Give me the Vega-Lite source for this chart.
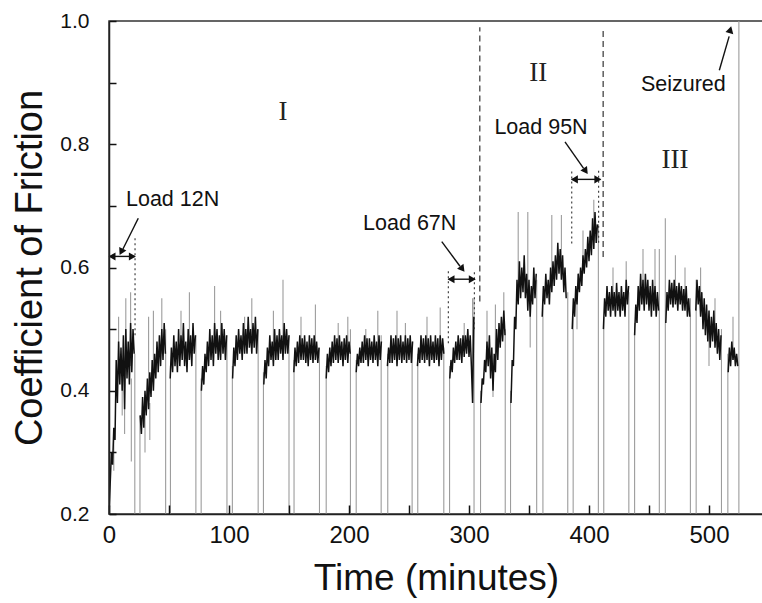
{
  "$schema": "https://vega.github.io/schema/vega-lite/v6.json",
  "width": 654,
  "height": 493,
  "autosize": "none",
  "padding": {"left": 109, "top": 21, "right": 0, "bottom": 89},
  "config": {
    "font": "Liberation Sans",
    "view": {"stroke": "#333", "strokeWidth": 1.5},
    "axis": {"grid": false, "domainColor": "#222", "domainWidth": 1.5, "tickColor": "#111", "tickWidth": 1.5, "labelColor": "#111", "titleColor": "#111", "titleFontWeight": "normal", "labelFont": "Liberation Sans", "titleFont": "Liberation Sans"}
  },
  "encoding": {
    "x": {"field": "t", "type": "quantitative", "scale": {"domain": [0, 545], "nice": false, "zero": false},
      "axis": {"title": "Time (minutes)", "values": [0, 50, 100, 150, 200, 250, 300, 350, 400, 450, 500],
        "labelExpr": "datum.value % 100 === 0 ? datum.label : ''", "labelFontSize": 24, "labelPadding": 18,
        "tickSize": -9, "titleFontSize": 37, "titlePadding": 13, "labelFlush": false, "zindex": 1}},
    "y": {"field": "c", "type": "quantitative", "scale": {"domain": [0.2, 1.0], "nice": false, "zero": false},
      "axis": {"title": "Coefficient of Friction", "values": [0.2, 0.3, 0.4, 0.5, 0.6, 0.7, 0.8, 0.9, 1.0],
        "labelExpr": "round(datum.value * 10) % 2 === 0 ? format(datum.value, '.1f') : ''",
        "labelFontSize": 21, "labelPadding": 27, "tickSize": -7, "titleFontSize": 38, "titlePadding": 10, "labelFlush": false, "zindex": 1}}
  },
  "layer": [
    {
      "data": {"values": [
        {"t": 4, "c": 0.27, "c2": 0.33}, {"t": 8, "c": 0.44, "c2": 0.52}, {"t": 11, "c": 0.36, "c2": 0.42}, {"t": 13, "c": 0.33, "c2": 0.42}, {"t": 14, "c": 0.44, "c2": 0.55}, {"t": 18, "c": 0.44, "c2": 0.56}, {"t": 18.6, "c": 0.285, "c2": 0.42},
        {"t": 21.5, "c": 0.2, "c2": 0.46}, {"t": 25.8, "c": 0.2, "c2": 0.36},
        {"t": 30, "c": 0.30, "c2": 0.36}, {"t": 33, "c": 0.40, "c2": 0.52}, {"t": 34, "c": 0.32, "c2": 0.38}, {"t": 37, "c": 0.42, "c2": 0.53}, {"t": 44, "c": 0.46, "c2": 0.55},
        {"t": 47.2, "c": 0.2, "c2": 0.5}, {"t": 51.2, "c": 0.2, "c2": 0.44},
        {"t": 60, "c": 0.46, "c2": 0.53}, {"t": 67, "c": 0.47, "c2": 0.56},
        {"t": 72.4, "c": 0.2, "c2": 0.49}, {"t": 76.8, "c": 0.2, "c2": 0.42},
        {"t": 88, "c": 0.47, "c2": 0.57}, {"t": 93, "c": 0.47, "c2": 0.53},
        {"t": 98.3, "c": 0.2, "c2": 0.49}, {"t": 102.8, "c": 0.2, "c2": 0.44},
        {"t": 113, "c": 0.48, "c2": 0.52}, {"t": 119, "c": 0.48, "c2": 0.55},
        {"t": 124.3, "c": 0.2, "c2": 0.5}, {"t": 128.7, "c": 0.2, "c2": 0.43},
        {"t": 137, "c": 0.46, "c2": 0.53}, {"t": 145, "c": 0.47, "c2": 0.58},
        {"t": 150, "c": 0.2, "c2": 0.49}, {"t": 154.2, "c": 0.2, "c2": 0.45},
        {"t": 160, "c": 0.47, "c2": 0.52}, {"t": 172, "c": 0.47, "c2": 0.54},
        {"t": 175.4, "c": 0.2, "c2": 0.47}, {"t": 181, "c": 0.2, "c2": 0.44},
        {"t": 191, "c": 0.47, "c2": 0.51}, {"t": 199, "c": 0.47, "c2": 0.52},
        {"t": 201.2, "c": 0.2, "c2": 0.5}, {"t": 206, "c": 0.2, "c2": 0.45},
        {"t": 214, "c": 0.47, "c2": 0.50}, {"t": 224, "c": 0.47, "c2": 0.53},
        {"t": 226.8, "c": 0.2, "c2": 0.49}, {"t": 232.3, "c": 0.2, "c2": 0.46},
        {"t": 240, "c": 0.47, "c2": 0.53}, {"t": 247, "c": 0.47, "c2": 0.51},
        {"t": 252.6, "c": 0.2, "c2": 0.48}, {"t": 257.3, "c": 0.2, "c2": 0.46},
        {"t": 265, "c": 0.47, "c2": 0.52}, {"t": 276, "c": 0.47, "c2": 0.535},
        {"t": 279, "c": 0.2, "c2": 0.47}, {"t": 283.8, "c": 0.2, "c2": 0.44},
        {"t": 296, "c": 0.47, "c2": 0.51}, {"t": 303, "c": 0.38, "c2": 0.55},
        {"t": 304.2, "c": 0.2, "c2": 0.55}, {"t": 309.6, "c": 0.2, "c2": 0.40},
        {"t": 315, "c": 0.46, "c2": 0.53}, {"t": 320, "c": 0.39, "c2": 0.44}, {"t": 322, "c": 0.45, "c2": 0.54}, {"t": 329, "c": 0.5, "c2": 0.56},
        {"t": 330.2, "c": 0.2, "c2": 0.5}, {"t": 334.6, "c": 0.2, "c2": 0.40},
        {"t": 341, "c": 0.56, "c2": 0.69}, {"t": 349, "c": 0.56, "c2": 0.69}, {"t": 351, "c": 0.47, "c2": 0.53},
        {"t": 356.4, "c": 0.2, "c2": 0.58}, {"t": 361.6, "c": 0.2, "c2": 0.54},
        {"t": 369, "c": 0.57, "c2": 0.685}, {"t": 377, "c": 0.6, "c2": 0.685},
        {"t": 382.3, "c": 0.2, "c2": 0.56}, {"t": 386.8, "c": 0.2, "c2": 0.52},
        {"t": 390, "c": 0.5, "c2": 0.55}, {"t": 395, "c": 0.6, "c2": 0.66}, {"t": 404, "c": 0.64, "c2": 0.71},
        {"t": 407.8, "c": 0.2, "c2": 0.67}, {"t": 412.3, "c": 0.2, "c2": 0.52},
        {"t": 420, "c": 0.54, "c2": 0.60}, {"t": 431, "c": 0.55, "c2": 0.61},
        {"t": 433.2, "c": 0.2, "c2": 0.56}, {"t": 438, "c": 0.2, "c2": 0.51},
        {"t": 445, "c": 0.55, "c2": 0.63}, {"t": 455, "c": 0.55, "c2": 0.63},
        {"t": 458.6, "c": 0.2, "c2": 0.63}, {"t": 463.6, "c": 0.2, "c2": 0.68},
        {"t": 472, "c": 0.55, "c2": 0.62}, {"t": 480, "c": 0.55, "c2": 0.60},
        {"t": 484.5, "c": 0.2, "c2": 0.55}, {"t": 489.3, "c": 0.2, "c2": 0.58},
        {"t": 493, "c": 0.54, "c2": 0.60}, {"t": 500, "c": 0.44, "c2": 0.5}, {"t": 505, "c": 0.49, "c2": 0.55},
        {"t": 510.4, "c": 0.2, "c2": 0.50}, {"t": 515.7, "c": 0.2, "c2": 0.46},
        {"t": 520, "c": 0.45, "c2": 0.52},
        {"t": 524.9, "c": 0.2, "c2": 1.0}
      ]},
      "mark": {"type": "rule", "color": "#9c9c9c", "strokeWidth": 1.1, "clip": true},
      "encoding": {"y2": {"field": "c2"}}
    },
    {
      "data": {"values": [
        {"s":"A","t":0,"c":0.2},{"s":"A","t":1,"c":0.25},{"s":"A","t":2,"c":0.30},{"s":"A","t":3,"c":0.28},{"s":"A","t":4,"c":0.34},{"s":"A","t":5,"c":0.32},{"s":"A","t":6,"c":0.45},{"s":"A","t":7,"c":0.38},{"s":"A","t":8,"c":0.48},{"s":"A","t":9,"c":0.41},{"s":"A","t":10,"c":0.47},{"s":"A","t":11,"c":0.40},{"s":"A","t":12,"c":0.49},{"s":"A","t":13,"c":0.37},{"s":"A","t":14,"c":0.50},{"s":"A","t":15,"c":0.42},{"s":"A","t":16,"c":0.48},{"s":"A","t":17,"c":0.41},{"s":"A","t":18,"c":0.51},{"s":"A","t":19,"c":0.43},{"s":"A","t":20,"c":0.50},{"s":"A","t":21,"c":0.46},
        {"s":"B","t":26,"c":0.36},{"s":"B","t":27,"c":0.33},{"s":"B","t":28,"c":0.39},{"s":"B","t":29,"c":0.34},{"s":"B","t":30,"c":0.40},{"s":"B","t":31,"c":0.36},{"s":"B","t":32,"c":0.42},{"s":"B","t":33,"c":0.37},{"s":"B","t":34,"c":0.43},{"s":"B","t":35,"c":0.39},{"s":"B","t":36,"c":0.45},{"s":"B","t":37,"c":0.40},{"s":"B","t":38,"c":0.46},{"s":"B","t":39,"c":0.42},{"s":"B","t":40,"c":0.48},{"s":"B","t":41,"c":0.43},{"s":"B","t":42,"c":0.49},{"s":"B","t":43,"c":0.44},{"s":"B","t":44,"c":0.50},{"s":"B","t":45,"c":0.45},{"s":"B","t":46,"c":0.51},{"s":"B","t":47,"c":0.46},
        {"s":"C","t":51,"c":0.42},{"s":"C","t":52,"c":0.47},{"s":"C","t":53,"c":0.43},{"s":"C","t":54,"c":0.49},{"s":"C","t":55,"c":0.44},{"s":"C","t":56,"c":0.48},{"s":"C","t":57,"c":0.43},{"s":"C","t":58,"c":0.50},{"s":"C","t":59,"c":0.44},{"s":"C","t":60,"c":0.49},{"s":"C","t":61,"c":0.45},{"s":"C","t":62,"c":0.51},{"s":"C","t":63,"c":0.44},{"s":"C","t":64,"c":0.48},{"s":"C","t":65,"c":0.43},{"s":"C","t":66,"c":0.50},{"s":"C","t":67,"c":0.45},{"s":"C","t":68,"c":0.49},{"s":"C","t":69,"c":0.44},{"s":"C","t":70,"c":0.51},{"s":"C","t":71,"c":0.46},{"s":"C","t":72,"c":0.49},
        {"s":"D","t":77,"c":0.40},{"s":"D","t":78,"c":0.44},{"s":"D","t":79,"c":0.41},{"s":"D","t":80,"c":0.46},{"s":"D","t":81,"c":0.43},{"s":"D","t":82,"c":0.48},{"s":"D","t":83,"c":0.44},{"s":"D","t":84,"c":0.50},{"s":"D","t":85,"c":0.45},{"s":"D","t":86,"c":0.49},{"s":"D","t":87,"c":0.44},{"s":"D","t":88,"c":0.51},{"s":"D","t":89,"c":0.46},{"s":"D","t":90,"c":0.50},{"s":"D","t":91,"c":0.45},{"s":"D","t":92,"c":0.49},{"s":"D","t":93,"c":0.45},{"s":"D","t":94,"c":0.51},{"s":"D","t":95,"c":0.46},{"s":"D","t":96,"c":0.50},{"s":"D","t":97,"c":0.45},{"s":"D","t":98,"c":0.49},
        {"s":"E","t":103,"c":0.42},{"s":"E","t":104,"c":0.47},{"s":"E","t":105,"c":0.44},{"s":"E","t":106,"c":0.49},{"s":"E","t":107,"c":0.45},{"s":"E","t":108,"c":0.50},{"s":"E","t":109,"c":0.46},{"s":"E","t":110,"c":0.49},{"s":"E","t":111,"c":0.45},{"s":"E","t":112,"c":0.51},{"s":"E","t":113,"c":0.46},{"s":"E","t":114,"c":0.50},{"s":"E","t":115,"c":0.46},{"s":"E","t":116,"c":0.52},{"s":"E","t":117,"c":0.47},{"s":"E","t":118,"c":0.50},{"s":"E","t":119,"c":0.46},{"s":"E","t":120,"c":0.51},{"s":"E","t":121,"c":0.47},{"s":"E","t":122,"c":0.52},{"s":"E","t":123,"c":0.46},{"s":"E","t":124,"c":0.50},
        {"s":"F","t":129,"c":0.41},{"s":"F","t":130,"c":0.45},{"s":"F","t":131,"c":0.42},{"s":"F","t":132,"c":0.47},{"s":"F","t":133,"c":0.44},{"s":"F","t":134,"c":0.49},{"s":"F","t":135,"c":0.45},{"s":"F","t":136,"c":0.48},{"s":"F","t":137,"c":0.44},{"s":"F","t":138,"c":0.50},{"s":"F","t":139,"c":0.45},{"s":"F","t":140,"c":0.49},{"s":"F","t":141,"c":0.45},{"s":"F","t":142,"c":0.50},{"s":"F","t":143,"c":0.46},{"s":"F","t":144,"c":0.49},{"s":"F","t":145,"c":0.45},{"s":"F","t":146,"c":0.51},{"s":"F","t":147,"c":0.46},{"s":"F","t":148,"c":0.50},{"s":"F","t":149,"c":0.46},{"s":"F","t":150,"c":0.49},
        {"s":"G","t":154,"c":0.43},{"s":"G","t":155,"c":0.47},{"s":"G","t":156,"c":0.44},{"s":"G","t":157,"c":0.48},{"s":"G","t":158,"c":0.445},{"s":"G","t":159,"c":0.49},{"s":"G","t":160,"c":0.45},{"s":"G","t":161,"c":0.485},{"s":"G","t":162,"c":0.45},{"s":"G","t":163,"c":0.49},{"s":"G","t":164,"c":0.445},{"s":"G","t":165,"c":0.48},{"s":"G","t":166,"c":0.44},{"s":"G","t":167,"c":0.49},{"s":"G","t":168,"c":0.45},{"s":"G","t":169,"c":0.485},{"s":"G","t":170,"c":0.445},{"s":"G","t":171,"c":0.49},{"s":"G","t":172,"c":0.45},{"s":"G","t":173,"c":0.48},{"s":"G","t":174,"c":0.445},{"s":"G","t":175,"c":0.47},
        {"s":"H","t":181,"c":0.42},{"s":"H","t":182,"c":0.46},{"s":"H","t":183,"c":0.43},{"s":"H","t":184,"c":0.47},{"s":"H","t":185,"c":0.44},{"s":"H","t":186,"c":0.48},{"s":"H","t":187,"c":0.445},{"s":"H","t":188,"c":0.49},{"s":"H","t":189,"c":0.45},{"s":"H","t":190,"c":0.485},{"s":"H","t":191,"c":0.445},{"s":"H","t":192,"c":0.49},{"s":"H","t":193,"c":0.45},{"s":"H","t":194,"c":0.48},{"s":"H","t":195,"c":0.44},{"s":"H","t":196,"c":0.485},{"s":"H","t":197,"c":0.45},{"s":"H","t":198,"c":0.49},{"s":"H","t":199,"c":0.445},{"s":"H","t":200,"c":0.48},{"s":"H","t":201,"c":0.46},
        {"s":"I","t":206,"c":0.43},{"s":"I","t":207,"c":0.46},{"s":"I","t":208,"c":0.44},{"s":"I","t":209,"c":0.47},{"s":"I","t":210,"c":0.445},{"s":"I","t":211,"c":0.48},{"s":"I","t":212,"c":0.445},{"s":"I","t":213,"c":0.49},{"s":"I","t":214,"c":0.45},{"s":"I","t":215,"c":0.485},{"s":"I","t":216,"c":0.44},{"s":"I","t":217,"c":0.485},{"s":"I","t":218,"c":0.45},{"s":"I","t":219,"c":0.48},{"s":"I","t":220,"c":0.445},{"s":"I","t":221,"c":0.49},{"s":"I","t":222,"c":0.45},{"s":"I","t":223,"c":0.48},{"s":"I","t":224,"c":0.44},{"s":"I","t":225,"c":0.49},{"s":"I","t":226,"c":0.45},{"s":"I","t":227,"c":0.48},
        {"s":"J","t":232,"c":0.44},{"s":"J","t":233,"c":0.47},{"s":"J","t":234,"c":0.445},{"s":"J","t":235,"c":0.49},{"s":"J","t":236,"c":0.445},{"s":"J","t":237,"c":0.485},{"s":"J","t":238,"c":0.45},{"s":"J","t":239,"c":0.49},{"s":"J","t":240,"c":0.44},{"s":"J","t":241,"c":0.485},{"s":"J","t":242,"c":0.45},{"s":"J","t":243,"c":0.49},{"s":"J","t":244,"c":0.445},{"s":"J","t":245,"c":0.48},{"s":"J","t":246,"c":0.45},{"s":"J","t":247,"c":0.49},{"s":"J","t":248,"c":0.445},{"s":"J","t":249,"c":0.485},{"s":"J","t":250,"c":0.45},{"s":"J","t":251,"c":0.49},{"s":"J","t":252,"c":0.445},{"s":"J","t":253,"c":0.48},
        {"s":"K","t":257,"c":0.44},{"s":"K","t":258,"c":0.47},{"s":"K","t":259,"c":0.445},{"s":"K","t":260,"c":0.49},{"s":"K","t":261,"c":0.45},{"s":"K","t":262,"c":0.485},{"s":"K","t":263,"c":0.445},{"s":"K","t":264,"c":0.49},{"s":"K","t":265,"c":0.45},{"s":"K","t":266,"c":0.485},{"s":"K","t":267,"c":0.44},{"s":"K","t":268,"c":0.49},{"s":"K","t":269,"c":0.45},{"s":"K","t":270,"c":0.48},{"s":"K","t":271,"c":0.445},{"s":"K","t":272,"c":0.49},{"s":"K","t":273,"c":0.45},{"s":"K","t":274,"c":0.485},{"s":"K","t":275,"c":0.44},{"s":"K","t":276,"c":0.49},{"s":"K","t":277,"c":0.45},{"s":"K","t":278,"c":0.485},{"s":"K","t":279,"c":0.46},
        {"s":"L","t":284,"c":0.42},{"s":"L","t":285,"c":0.45},{"s":"L","t":286,"c":0.43},{"s":"L","t":287,"c":0.47},{"s":"L","t":288,"c":0.445},{"s":"L","t":289,"c":0.48},{"s":"L","t":290,"c":0.45},{"s":"L","t":291,"c":0.49},{"s":"L","t":292,"c":0.45},{"s":"L","t":293,"c":0.485},{"s":"L","t":294,"c":0.445},{"s":"L","t":295,"c":0.49},{"s":"L","t":296,"c":0.455},{"s":"L","t":297,"c":0.49},{"s":"L","t":298,"c":0.46},{"s":"L","t":299,"c":0.50},{"s":"L","t":300,"c":0.455},{"s":"L","t":301,"c":0.49},{"s":"L","t":302,"c":0.44},{"s":"L","t":303,"c":0.38},{"s":"L","t":304,"c":0.52},
        {"s":"M","t":310,"c":0.38},{"s":"M","t":311,"c":0.42},{"s":"M","t":312,"c":0.41},{"s":"M","t":313,"c":0.45},{"s":"M","t":314,"c":0.43},{"s":"M","t":315,"c":0.48},{"s":"M","t":316,"c":0.44},{"s":"M","t":317,"c":0.49},{"s":"M","t":318,"c":0.42},{"s":"M","t":319,"c":0.47},{"s":"M","t":320,"c":0.40},{"s":"M","t":321,"c":0.46},{"s":"M","t":322,"c":0.43},{"s":"M","t":323,"c":0.50},{"s":"M","t":324,"c":0.45},{"s":"M","t":325,"c":0.51},{"s":"M","t":326,"c":0.47},{"s":"M","t":327,"c":0.52},{"s":"M","t":328,"c":0.48},{"s":"M","t":329,"c":0.53},{"s":"M","t":330,"c":0.49},
        {"s":"N","t":335,"c":0.38},{"s":"N","t":336,"c":0.45},{"s":"N","t":337,"c":0.44},{"s":"N","t":338,"c":0.52},{"s":"N","t":339,"c":0.50},{"s":"N","t":340,"c":0.58},{"s":"N","t":341,"c":0.54},{"s":"N","t":342,"c":0.61},{"s":"N","t":343,"c":0.55},{"s":"N","t":344,"c":0.60},{"s":"N","t":345,"c":0.56},{"s":"N","t":346,"c":0.62},{"s":"N","t":347,"c":0.55},{"s":"N","t":348,"c":0.59},{"s":"N","t":349,"c":0.53},{"s":"N","t":350,"c":0.58},{"s":"N","t":351,"c":0.52},{"s":"N","t":352,"c":0.57},{"s":"N","t":353,"c":0.54},{"s":"N","t":354,"c":0.60},{"s":"N","t":355,"c":0.55},{"s":"N","t":356,"c":0.59},
        {"s":"O","t":361,"c":0.52},{"s":"O","t":362,"c":0.57},{"s":"O","t":363,"c":0.54},{"s":"O","t":364,"c":0.59},{"s":"O","t":365,"c":0.55},{"s":"O","t":366,"c":0.58},{"s":"O","t":367,"c":0.54},{"s":"O","t":368,"c":0.60},{"s":"O","t":369,"c":0.56},{"s":"O","t":370,"c":0.61},{"s":"O","t":371,"c":0.57},{"s":"O","t":372,"c":0.62},{"s":"O","t":373,"c":0.58},{"s":"O","t":374,"c":0.64},{"s":"O","t":375,"c":0.59},{"s":"O","t":376,"c":0.63},{"s":"O","t":377,"c":0.58},{"s":"O","t":378,"c":0.62},{"s":"O","t":379,"c":0.56},{"s":"O","t":380,"c":0.60},{"s":"O","t":381,"c":0.55},
        {"s":"P","t":386,"c":0.50},{"s":"P","t":387,"c":0.55},{"s":"P","t":388,"c":0.52},{"s":"P","t":389,"c":0.57},{"s":"P","t":390,"c":0.54},{"s":"P","t":391,"c":0.59},{"s":"P","t":392,"c":0.56},{"s":"P","t":393,"c":0.60},{"s":"P","t":394,"c":0.57},{"s":"P","t":395,"c":0.62},{"s":"P","t":396,"c":0.59},{"s":"P","t":397,"c":0.63},{"s":"P","t":398,"c":0.60},{"s":"P","t":399,"c":0.65},{"s":"P","t":400,"c":0.61},{"s":"P","t":401,"c":0.66},{"s":"P","t":402,"c":0.62},{"s":"P","t":403,"c":0.68},{"s":"P","t":404,"c":0.63},{"s":"P","t":405,"c":0.69},{"s":"P","t":406,"c":0.64},{"s":"P","t":407,"c":0.67},
        {"s":"Q","t":412,"c":0.50},{"s":"Q","t":413,"c":0.55},{"s":"Q","t":414,"c":0.52},{"s":"Q","t":415,"c":0.57},{"s":"Q","t":416,"c":0.53},{"s":"Q","t":417,"c":0.56},{"s":"Q","t":418,"c":0.52},{"s":"Q","t":419,"c":0.57},{"s":"Q","t":420,"c":0.53},{"s":"Q","t":421,"c":0.56},{"s":"Q","t":422,"c":0.52},{"s":"Q","t":423,"c":0.575},{"s":"Q","t":424,"c":0.53},{"s":"Q","t":425,"c":0.56},{"s":"Q","t":426,"c":0.52},{"s":"Q","t":427,"c":0.57},{"s":"Q","t":428,"c":0.53},{"s":"Q","t":429,"c":0.56},{"s":"Q","t":430,"c":0.52},{"s":"Q","t":431,"c":0.58},{"s":"Q","t":432,"c":0.54},{"s":"Q","t":433,"c":0.57},
        {"s":"R","t":438,"c":0.49},{"s":"R","t":439,"c":0.54},{"s":"R","t":440,"c":0.51},{"s":"R","t":441,"c":0.57},{"s":"R","t":442,"c":0.53},{"s":"R","t":443,"c":0.59},{"s":"R","t":444,"c":0.54},{"s":"R","t":445,"c":0.58},{"s":"R","t":446,"c":0.53},{"s":"R","t":447,"c":0.59},{"s":"R","t":448,"c":0.54},{"s":"R","t":449,"c":0.58},{"s":"R","t":450,"c":0.53},{"s":"R","t":451,"c":0.57},{"s":"R","t":452,"c":0.52},{"s":"R","t":453,"c":0.58},{"s":"R","t":454,"c":0.53},{"s":"R","t":455,"c":0.57},{"s":"R","t":456,"c":0.52},{"s":"R","t":457,"c":0.56},{"s":"R","t":458,"c":0.53},
        {"s":"S","t":464,"c":0.51},{"s":"S","t":465,"c":0.56},{"s":"S","t":466,"c":0.53},{"s":"S","t":467,"c":0.58},{"s":"S","t":468,"c":0.54},{"s":"S","t":469,"c":0.575},{"s":"S","t":470,"c":0.535},{"s":"S","t":471,"c":0.58},{"s":"S","t":472,"c":0.54},{"s":"S","t":473,"c":0.57},{"s":"S","t":474,"c":0.53},{"s":"S","t":475,"c":0.575},{"s":"S","t":476,"c":0.54},{"s":"S","t":477,"c":0.57},{"s":"S","t":478,"c":0.53},{"s":"S","t":479,"c":0.565},{"s":"S","t":480,"c":0.53},{"s":"S","t":481,"c":0.57},{"s":"S","t":482,"c":0.52},{"s":"S","t":483,"c":0.55},{"s":"S","t":484,"c":0.52},
        {"s":"T","t":489,"c":0.53},{"s":"T","t":490,"c":0.58},{"s":"T","t":491,"c":0.54},{"s":"T","t":492,"c":0.57},{"s":"T","t":493,"c":0.52},{"s":"T","t":494,"c":0.56},{"s":"T","t":495,"c":0.50},{"s":"T","t":496,"c":0.55},{"s":"T","t":497,"c":0.49},{"s":"T","t":498,"c":0.54},{"s":"T","t":499,"c":0.48},{"s":"T","t":500,"c":0.53},{"s":"T","t":501,"c":0.47},{"s":"T","t":502,"c":0.52},{"s":"T","t":503,"c":0.48},{"s":"T","t":504,"c":0.53},{"s":"T","t":505,"c":0.47},{"s":"T","t":506,"c":0.51},{"s":"T","t":507,"c":0.46},{"s":"T","t":508,"c":0.50},{"s":"T","t":509,"c":0.45},{"s":"T","t":510,"c":0.49},
        {"s":"U","t":516,"c":0.43},{"s":"U","t":517,"c":0.47},{"s":"U","t":518,"c":0.44},{"s":"U","t":519,"c":0.48},{"s":"U","t":520,"c":0.45},{"s":"U","t":521,"c":0.47},{"s":"U","t":522,"c":0.44},{"s":"U","t":523,"c":0.46},{"s":"U","t":524,"c":0.44}
      ]},
      "mark": {"type": "line", "color": "#111", "strokeWidth": 1.5, "clip": true},
      "encoding": {"detail": {"field": "s", "type": "nominal"}}
    },
    {
      "data": {"values": [
        {"t": 309, "c": 0.545, "c2": 0.99}, {"t": 411.8, "c": 0.617, "c2": 0.99}
      ]},
      "mark": {"type": "rule", "color": "#444", "strokeWidth": 1.3, "strokeDash": [6, 4]},
      "encoding": {"y2": {"field": "c2"}}
    },
    {
      "data": {"values": [
        {"t": 21.7, "c": 0.49, "c2": 0.65},
        {"t": 282.8, "c": 0.477, "c2": 0.596}, {"t": 304.5, "c": 0.50, "c2": 0.596},
        {"t": 385.6, "c": 0.639, "c2": 0.758}, {"t": 408, "c": 0.64, "c2": 0.758}
      ]},
      "mark": {"type": "rule", "color": "#444", "strokeWidth": 1.2, "strokeDash": [2, 3]},
      "encoding": {"y2": {"field": "c2"}}
    },
    {
      "data": {"values": [
        {"t": 0.5, "c": 0.618, "t2": 21.7, "c2": 0.618},
        {"t": 282.8, "c": 0.581, "t2": 305, "c2": 0.581},
        {"t": 385.6, "c": 0.743, "t2": 409.6, "c2": 0.743},
        {"t": 24.4, "c": 0.680, "t2": 11.6, "c2": 0.630},
        {"t": 277.3, "c": 0.642, "t2": 292.5, "c2": 0.602},
        {"t": 380, "c": 0.804, "t2": 395.5, "c2": 0.761},
        {"t": 508.6, "c": 0.920, "t2": 516.8, "c2": 0.975}
      ]},
      "mark": {"type": "rule", "color": "#111", "strokeWidth": 1.4},
      "encoding": {"x2": {"field": "t2"}, "y2": {"field": "c2"}}
    },
    {
      "data": {"values": [
        {"t": 3.5, "c": 0.618, "a": 270}, {"t": 18.5, "c": 0.618, "a": 90},
        {"t": 286.0, "c": 0.581, "a": 270}, {"t": 301.8, "c": 0.581, "a": 90},
        {"t": 388.8, "c": 0.743, "a": 270}, {"t": 406.4, "c": 0.743, "a": 90},
        {"t": 10.6, "c": 0.627, "a": 207},
        {"t": 293.9, "c": 0.599, "a": 143},
        {"t": 396.7, "c": 0.758, "a": 145},
        {"t": 517.5, "c": 0.984, "a": 15}
      ]},
      "mark": {"type": "point", "shape": "triangle", "filled": true, "color": "#111", "opacity": 1, "size": 65},
      "encoding": {"angle": {"field": "a", "type": "quantitative", "scale": null}}
    },
    {
      "data": {"values": [
        {"t": 145, "c": 0.853, "label": "I"},
        {"t": 357.7, "c": 0.916, "label": "II"},
        {"t": 471.7, "c": 0.774, "label": "III"}
      ]},
      "mark": {"type": "text", "font": "Liberation Serif", "fontSize": 27, "color": "#222", "baseline": "middle", "align": "center"},
      "encoding": {"text": {"field": "label"}}
    },
    {
      "data": {"values": [
        {"t": 53, "c": 0.709, "label": "Load 12N"},
        {"t": 250.6, "c": 0.671, "label": "Load 67N"},
        {"t": 360, "c": 0.827, "label": "Load 95N"},
        {"t": 478.6, "c": 0.896, "label": "Seizured"}
      ]},
      "mark": {"type": "text", "fontSize": 21.5, "color": "#111", "baseline": "middle", "align": "center"},
      "encoding": {"text": {"field": "label"}}
    }
  ]
}
